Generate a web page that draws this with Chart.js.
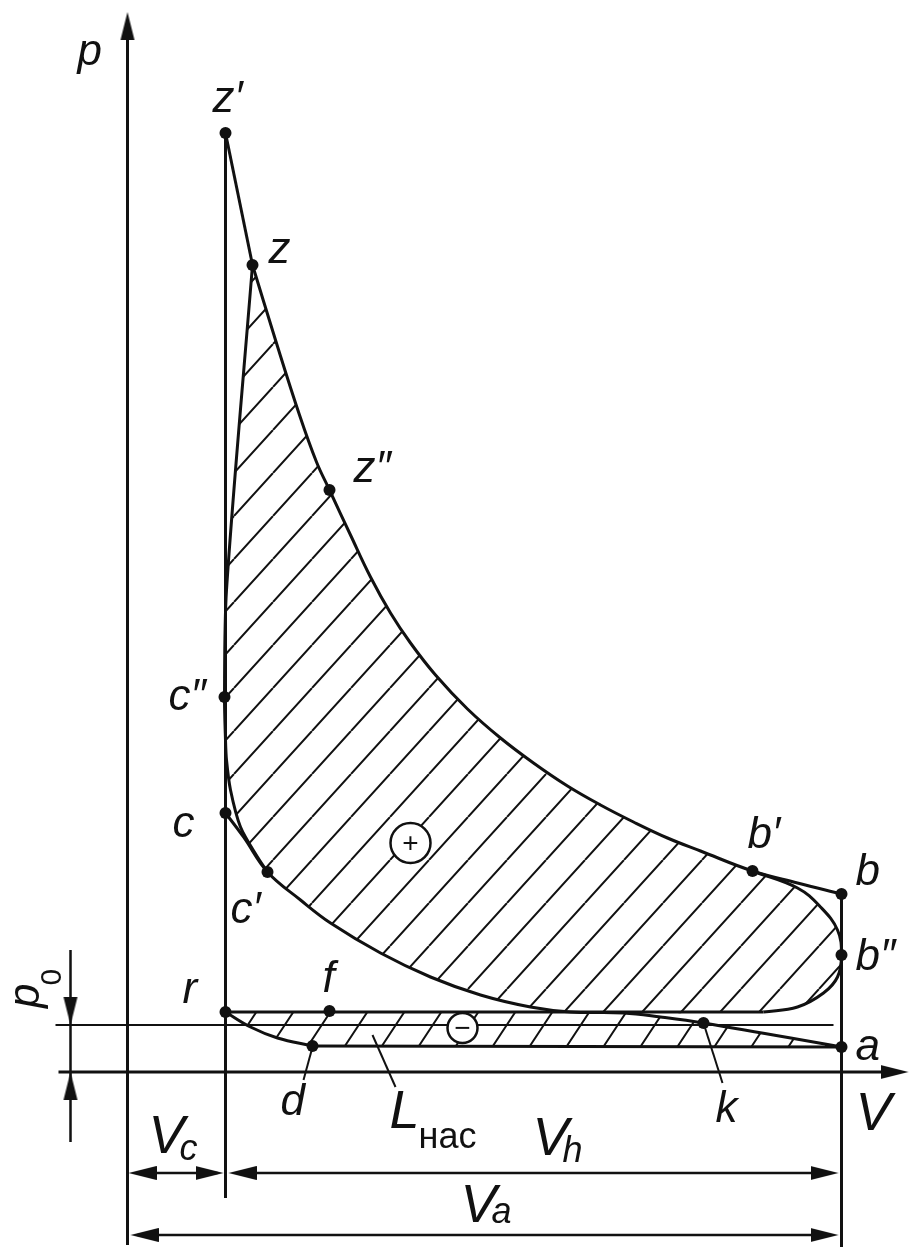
<!DOCTYPE html>
<html>
<head>
<meta charset="utf-8">
<script src="https://cdn.jsdelivr.net/npm/chart.js@4.4.0/dist/chart.umd.min.js"></script>
<style>
  html, body { margin: 0; padding: 0; background: #fff; }
  #wrap { width: 909px; height: 1247px; }
</style>
</head>
<body>
<div id="wrap"><canvas id="pvCanvas" width="909" height="1247"></canvas></div>
<script>
// p-V indicator diagram, V and p in drawing units (V = 0 on the p axis, p = 0 on the V axis)

// characteristic points of the cycle
var pointNames = ['z′', 'z', 'z″', 'c″', 'c', 'c′', 'b′', 'b', 'b″', 'a', 'k', 'f', 'r', 'd'];
var pointV = [98, 125, 202, 97, 98, 140, 625, 714, 714, 714, 576, 202, 98, 185];
var pointP = [939, 807, 582, 375, 259, 200, 201, 178, 117, 25, 49, 61, 60, 26];

// theoretical expansion z -> b
var expansionV = [125, 148, 172, 189, 202, 223, 243, 263, 283, 308, 340, 373, 406, 440, 473, 506, 540, 573, 625, 670, 714];
var expansionP = [807, 732, 657, 610, 582, 537, 495, 459, 429, 397, 363, 334, 309, 286, 267, 250, 234, 221, 201, 189, 178];

// compression a -> k -> c' -> c
var compressionV = [714, 576, 533, 496, 443, 403, 353, 303, 253, 203, 173, 140, 116, 98];
var compressionP = [25, 49, 55, 59, 60, 65, 77, 95, 119, 149, 172, 200, 235, 259];

// real combustion c' -> c'' -> z
var combustionV = [140, 130, 113, 103, 99, 98, 97, 99, 125];
var combustionP = [200, 215, 245, 282, 312, 332, 375, 482, 807];

// real exhaust rounding b' -> b'' -> bottom of the loop
var roundingV = [625, 670, 693, 710, 714, 710, 696, 670, 636];
var roundingP = [201, 184, 165, 142, 117, 95, 79, 65, 60];

// exhaust stroke line, intake curve r -> d and intake line d -> a
var exhaustV = [98, 636];
var exhaustP = [60, 60];
var intakeCurveV = [98, 123, 150, 185];
var intakeCurveP = [60, 45, 34, 26];
var intakeLineV = [185, 714];
var intakeLineP = [26, 25];

// ambient pressure level and volumes
var p0Level = 47;
var Vc = 98;
var Va = 714;

function pts(vs, ps) {
  return vs.map(function (v, i) { return { x: v, y: ps[i] }; });
}

function seg(a, b) {
  return [{ x: a[0], y: a[1] }, { x: b[0], y: b[1] }];
}

function makeHatch(step, rise, width) {
  var c = document.createElement('canvas');
  c.width = step;
  c.height = rise;
  var g = c.getContext('2d');
  g.strokeStyle = '#111';
  g.lineWidth = width;
  g.beginPath();
  for (var k = -1; k <= 1; k++) {
    g.moveTo(k * step, rise);
    g.lineTo((k + 1) * step, 0);
  }
  g.stroke();
  return g.createPattern(c, 'repeat');
}

function makeArrowHead(len, half) {
  var c = document.createElement('canvas');
  c.width = len * 2;
  c.height = len * 2;
  var g = c.getContext('2d');
  g.fillStyle = '#111';
  g.beginPath();
  g.moveTo(len, len);
  g.lineTo(0, len - half);
  g.lineTo(0, len + half);
  g.closePath();
  g.fill();
  return c;
}

// positive work loop: z -> b' -> b'' -> bottom -> c' -> z
var plusLoop = pts(expansionV.slice(0, 19), expansionP.slice(0, 19))
  .concat(pts(roundingV.slice(1), roundingP.slice(1)))
  .concat(pts(compressionV.slice(4, 12), compressionP.slice(4, 12)))
  .concat(pts(combustionV.slice(1), combustionP.slice(1)));

// pumping loop: r -> k -> a -> d -> r
var minusLoop = [{ x: exhaustV[0], y: exhaustP[0] }]
  .concat(pts(compressionV.slice(0, 4), compressionP.slice(0, 4)).reverse())
  .concat(pts(intakeCurveV, intakeCurveP).reverse());

// arrow tips [V, p, direction in degrees]
var arrowTips = [
  [0, 1060, -90], [781, 0, 0],
  [-57, p0Level, 90], [-57, 0, -90],
  [1, -101, 180], [96, -101, 0],
  [101, -101, 180], [711, -101, 0],
  [3, -163, 180], [711, -163, 0]
];

// label layout: text, [V, p] of the baseline start, font
var italic = 'italic 44px "Liberation Sans", Arial, sans-serif';
var italicBig = 'italic 54px "Liberation Sans", Arial, sans-serif';
var italicSub = 'italic 36px "Liberation Sans", Arial, sans-serif';
var textLabels = [
  ['p', [-50, 1007], italic],
  ['z′', [85, 960], italic],
  ['z', [141, 809], italic],
  ['z″', [226, 590], italic],
  ['c″', [41, 362], italic],
  ['c', [45, 235], italic],
  ['c′', [103, 149], italic],
  ['b′', [620, 224], italic],
  ['b', [728, 187], italic],
  ['b″', [728, 102], italic],
  ['r', [55, 69], italic],
  ['f', [195, 80], italic],
  ['a', [728, 12], italic],
  ['d', [153, -43], italic],
  ['k', [588, -50], italic],
  ['V', [728, -58], italicBig],
  ['L', [262, -56], italicBig],
  ['нас', [291, -76], '36px "Liberation Sans", Arial, sans-serif'],
  ['V', [21, -81], italicBig],
  ['c', [52, -88], italicSub],
  ['V', [405, -83], italicBig],
  ['h', [435, -90], italicSub],
  ['V', [333, -150], italicBig],
  ['a', [364, -151], italicSub]
];

// circled signs of the loop areas
var signs = [['+', 283, 229, 20], ['−', 335, 44, 15]];

var labelPlugin = {
  id: 'pvLabels',
  afterDatasetsDraw: function (chart) {
    var g = chart.ctx, xs = chart.scales.x, ys = chart.scales.y;
    g.save();
    g.fillStyle = '#111';
    g.textAlign = 'left';
    g.textBaseline = 'alphabetic';
    textLabels.forEach(function (l) {
      g.font = l[2];
      g.fillText(l[0], xs.getPixelForValue(l[1][0]), ys.getPixelForValue(l[1][1]));
    });
    g.textAlign = 'center';
    g.textBaseline = 'middle';
    g.font = '28px "Liberation Sans", Arial, sans-serif';
    signs.forEach(function (s) {
      g.fillText(s[0], xs.getPixelForValue(s[1]), ys.getPixelForValue(s[2]) + 1);
    });
    // p0 written along the dimension line
    g.translate(xs.getPixelForValue(-89), ys.getPixelForValue(64));
    g.rotate(-Math.PI / 2);
    g.textAlign = 'left';
    g.textBaseline = 'alphabetic';
    g.font = italic;
    g.fillText('p', 0, 0);
    var w = g.measureText('p').width;
    g.font = '30px "Liberation Sans", Arial, sans-serif';
    g.fillText('0', w - 2, 22);
    g.restore();
  }
};

var hatchPlus = makeHatch(39, 43, 2);
var hatchMinus = makeHatch(37, 56, 2);
var arrowHead = makeArrowHead(28, 7);

function lineSet(data, width, tension) {
  return {
    data: data,
    borderColor: '#111',
    borderWidth: width,
    tension: tension || 0,
    pointRadius: 0,
    pointHoverRadius: 0,
    fill: false
  };
}

var datasets = [
  {
    data: arrowTips.map(function (a) { return { x: a[0], y: a[1] }; }),
    showLine: false,
    pointStyle: arrowHead,
    pointRadius: 5,
    pointRotation: arrowTips.map(function (a) { return a[2]; })
  },
  {
    data: pts(pointV, pointP),
    showLine: false,
    pointStyle: 'circle',
    pointRadius: 6,
    pointBackgroundColor: '#111',
    pointBorderWidth: 0
  },
  {
    data: signs.map(function (s) { return { x: s[1], y: s[2] }; }),
    showLine: false,
    pointStyle: 'circle',
    pointRadius: signs.map(function (s) { return s[3]; }),
    pointBackgroundColor: '#fff',
    pointBorderColor: '#111',
    pointBorderWidth: 2.5
  },
  lineSet(pts(expansionV, expansionP), 3, 0.4),
  lineSet(pts(compressionV, compressionP), 3, 0.4),
  lineSet(pts(combustionV, combustionP), 3, 0.3),
  lineSet(pts(roundingV, roundingP), 3, 0.4),
  lineSet(pts(exhaustV, exhaustP), 3),
  lineSet(pts(intakeCurveV, intakeCurveP), 3, 0.4),
  lineSet(pts(intakeLineV, intakeLineP), 3),
  lineSet(seg([pointV[0], pointP[0]], [pointV[1], pointP[1]]), 3),
  lineSet(seg([Vc, pointP[0]], [Vc, -126]), 3),
  lineSet(seg([Va, pointP[7]], [Va, -175]), 3),
  lineSet(seg([0, -173], [0, 1040]), 3),
  lineSet(seg([-69, 0], [760, 0]), 3),
  lineSet(seg([-72, p0Level], [706, p0Level]), 2),
  lineSet(seg([-57, 122], [-57, -70]), 2.5),
  lineSet(seg([10, -101], [90, -101]), 2.5),
  lineSet(seg([110, -101], [700, -101]), 2.5),
  lineSet(seg([10, -163], [700, -163]), 2.5),
  lineSet(seg([185, 25], [176, -8]), 2),
  lineSet(seg([245, 37], [268, -15]), 2),
  lineSet(seg([576, 49], [595, -11]), 2),
  {
    data: plusLoop,
    borderWidth: 0,
    borderColor: 'rgba(0,0,0,0)',
    backgroundColor: hatchPlus,
    fill: 'shape',
    tension: 0.4,
    pointRadius: 0
  },
  {
    data: minusLoop,
    borderWidth: 0,
    borderColor: 'rgba(0,0,0,0)',
    backgroundColor: hatchMinus,
    fill: 'shape',
    tension: 0,
    pointRadius: 0
  }
];

var ctx = document.getElementById('pvCanvas').getContext('2d');
var pvChart = new Chart(ctx, {
  type: 'line',
  data: { datasets: datasets },
  options: {
    responsive: false,
    animation: false,
    devicePixelRatio: 1,
    events: [],
    layout: { padding: 0, autoPadding: false },
    plugins: { legend: { display: false }, tooltip: { enabled: false } },
    scales: {
      x: { type: 'linear', display: false, min: -127.5, max: 781.5 },
      y: { type: 'linear', display: false, min: -175, max: 1072 }
    }
  },
  plugins: [labelPlugin]
});
</script>
</body>
</html>
